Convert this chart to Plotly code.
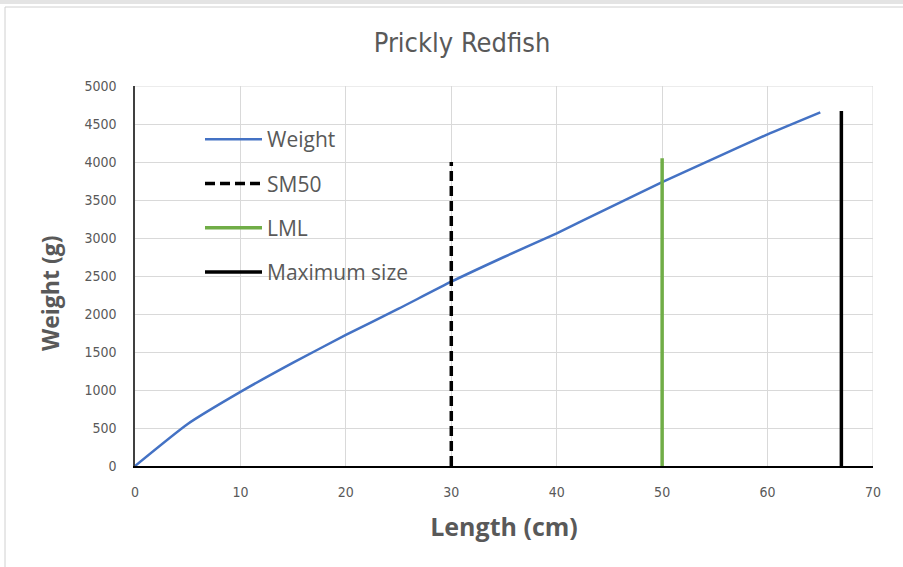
import plotly.graph_objects as go

# Data
length_cm = [0, 5, 10, 15, 20, 25, 30, 35, 40, 45, 50, 55, 60, 65]
weight_g = [0, 553, 975, 1360, 1724, 2070, 2425, 2750, 3062, 3400, 3735, 4050, 4364, 4654]

sm50_x = [30, 30]
sm50_y = [0, 4000]
lml_x = [50, 50]
lml_y = [0, 4050]
max_x = [67, 67]
max_y = [0, 4670]

x_ticks = [0, 10, 20, 30, 40, 50, 60, 70]
y_ticks = [0, 500, 1000, 1500, 2000, 2500, 3000, 3500, 4000, 4500, 5000]

W, H = 903, 567
L, R, T, B = 135, 903 - 873, 86, 567 - 466
PW, PH = W - L - R, H - T - B

def px(x):
    return (x - L) / PW

def py(y):
    return (H - B - y) / PH

narrow = "DejaVu Sans Condensed, Liberation Sans Narrow, sans-serif"
sans = "Open Sans, Noto Sans, sans-serif"
grey = "#595959"

fig = go.Figure()
fig.add_trace(go.Scatter(x=length_cm, y=weight_g, mode="lines", name="Weight",
                         line=dict(color="#4472C4", width=2.5, shape="spline", smoothing=0.5),
                         legendgroup="a"))
fig.add_trace(go.Scatter(x=sm50_x, y=sm50_y, mode="lines", name="SM50",
                         line=dict(color="black", width=3.5, dash="10px,5px"), legendgroup="b"))
fig.add_trace(go.Scatter(x=lml_x, y=lml_y, mode="lines", name="LML",
                         line=dict(color="#70AD47", width=3.5), legendgroup="c"))
fig.add_trace(go.Scatter(x=max_x, y=max_y, mode="lines", name="Maximum size",
                         line=dict(color="black", width=3.5), legendgroup="d"))

fig.update_layout(
    width=W, height=H,
    margin=dict(l=L, r=R, t=T, b=B),
    paper_bgcolor="white", plot_bgcolor="white",
    title=dict(text="Prickly Redfish", x=462 / W, xref="container", xanchor="center",
               y=1 - 43 / H, yref="container", yanchor="middle",
               font=dict(family=narrow, size=27, color=grey)),
    showlegend=True,
    legend=dict(x=px(200), y=py(119), xanchor="left", yanchor="top",
                bgcolor="rgba(0,0,0,0)", itemwidth=57, tracegroupgap=14,
                font=dict(family=sans, size=21, color=grey)),
    xaxis=dict(range=[0, 70], tickvals=x_ticks, showgrid=True, gridcolor="#d9d9d9",
               gridwidth=1, zeroline=False, showline=True, linecolor="black", linewidth=2,
               ticks="", ticklabelstandoff=12,
               tickfont=dict(family=narrow, size=14, color=grey),
               title=dict(text="<b>Length (cm)</b>", standoff=20,
                          font=dict(family=sans, size=25, color=grey))),
    yaxis=dict(range=[0, 5000], tickvals=y_ticks, showgrid=True, gridcolor="#d9d9d9",
               gridwidth=1, zeroline=False, showline=True, linecolor="#404040", linewidth=1.5,
               ticks="", ticklabelstandoff=14,
               tickfont=dict(family=narrow, size=14, color=grey)),
    annotations=[
        dict(text="<b>Weight (g)</b>", xref="paper", yref="paper", x=px(50), y=py(293),
             xanchor="center", yanchor="middle", textangle=-90, showarrow=False,
             font=dict(family=sans, size=23, color=grey)),
    ],
    shapes=[
        dict(type="rect", xref="paper", yref="paper", x0=px(0), x1=px(W), y0=py(0), y1=py(4),
             fillcolor="#e4e4e4", line=dict(width=0), layer="above"),
        dict(type="line", xref="paper", yref="paper", x0=px(5), x1=px(5), y0=py(7), y1=py(H),
             line=dict(color="#d0d0d0", width=1)),
        dict(type="line", xref="paper", yref="paper", x0=px(5), x1=px(W), y0=py(7), y1=py(7),
             line=dict(color="#d0d0d0", width=1)),
        dict(type="line", xref="x", yref="y", x0=70, x1=70, y0=0, y1=5000,
             line=dict(color="#d9d9d9", width=1), layer="below"),
        dict(type="line", xref="x", yref="y", x0=0, x1=70, y0=5000, y1=5000,
             line=dict(color="#d9d9d9", width=1), layer="below"),
    ],
)

fig.write_html("out.html")
